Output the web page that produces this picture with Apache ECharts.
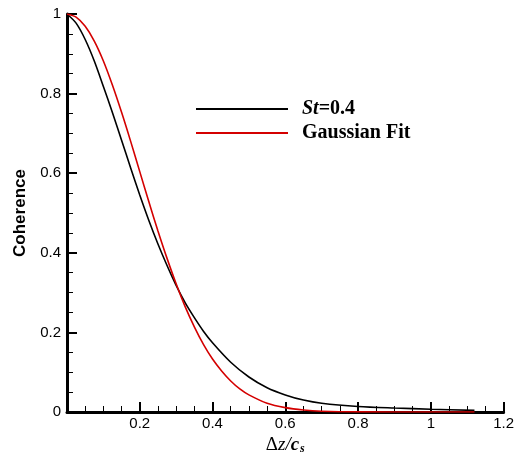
<!DOCTYPE html>
<html>
<head>
<meta charset="utf-8">
<script src="https://cdn.jsdelivr.net/npm/echarts@6/dist/echarts.min.js"></script>
<style>
html,body{margin:0;padding:0;background:#fff;}
#c{width:517px;height:466px;}
</style>
</head>
<body>
<div id="c"></div>
<script>
// Data
const seriesNames = ['St=0.4', 'Gaussian Fit'];
const stX = [0, 0.025, 0.05, 0.075, 0.1, 0.125, 0.15, 0.175, 0.2, 0.225, 0.25, 0.275, 0.3, 0.325, 0.35, 0.375, 0.4, 0.45, 0.5, 0.55, 0.6, 0.65, 0.7, 0.8, 0.9, 1.0, 1.12];
const stY = [1.0, 0.977, 0.936, 0.882, 0.818, 0.752, 0.683, 0.613, 0.545, 0.481, 0.422, 0.368, 0.318, 0.274, 0.237, 0.203, 0.174, 0.125, 0.088, 0.061, 0.043, 0.030, 0.022, 0.014, 0.010, 0.007, 0.004];
const gfX = [0, 0.025, 0.05, 0.075, 0.1, 0.125, 0.15, 0.175, 0.2, 0.225, 0.25, 0.275, 0.3, 0.325, 0.35, 0.375, 0.4, 0.425, 0.45, 0.475, 0.5, 0.55, 0.6, 0.65, 0.7, 0.8, 1.0, 1.12];
const gfY = [1.0, 0.992, 0.969, 0.932, 0.882, 0.821, 0.753, 0.680, 0.604, 0.528, 0.455, 0.386, 0.322, 0.264, 0.214, 0.170, 0.133, 0.103, 0.078, 0.058, 0.043, 0.022, 0.011, 0.005, 0.002, 0.0003, 0.0, 0.0];
const xTicks = [0, 0.2, 0.4, 0.6, 0.8, 1, 1.2];
const yTicks = [0, 0.2, 0.4, 0.6, 0.8, 1];

const pairs = (xs, ys) => xs.map((x, i) => [x, ys[i]]);
const chart = echarts.init(document.getElementById('c'));
const axisCommon = {
  axisLine: {show: true, lineStyle: {color: '#000', width: 3}},
  axisTick: {show: true, inside: true, length: 10, lineStyle: {color: '#000', width: 2}},
  minorTick: {show: true, splitNumber: 4, length: 6, lineStyle: {color: '#000', width: 1}},
  splitLine: {show: false},
  axisLabel: {color: '#000', fontFamily: 'Liberation Sans, Arial', fontSize: 15}
};
chart.setOption({
  animation: false,
  backgroundColor: '#fff',
  grid: {left: 67, right: 10, top: 14, bottom: 54, containLabel: false},
  legend: {
    orient: 'vertical', left: 196, top: 99, padding: 0, icon: 'rect', itemWidth: 92, itemHeight: 2, itemGap: 4,
    data: seriesNames,
    textStyle: {
      color: '#000', fontFamily: 'Liberation Serif, Times New Roman', fontSize: 20, fontWeight: 'bold', padding: [0,0,0,9],
      rich: {
        i: {fontFamily: 'Liberation Serif', fontSize: 20, fontWeight: 'bold', fontStyle: 'italic', color: '#000'},
        b: {fontFamily: 'Liberation Serif', fontSize: 20, fontWeight: 'bold', color: '#000'}
      }
    },
    formatter: function (n) { return n === 'St=0.4' ? '{i|St}{b|=0.4}' : '{b|' + n + '}'; }
  },
  xAxis: Object.assign({}, axisCommon, {
    type: 'value', min: 0, max: 1.2, interval: 0.2,
    axisLabel: Object.assign({}, axisCommon.axisLabel, {margin: 4,
      formatter: v => (Math.abs(v) < 1e-9 ? '' : String(+v.toFixed(2)))}),
    name: '{d|Δ}{z|z/}{c|c}{s|s}', nameLocation: 'middle', nameGap: 21,
    nameTextStyle: {
      rich: {
        d: {fontFamily: 'Liberation Serif', fontSize: 19, color: '#000'},
        z: {fontFamily: 'Liberation Serif', fontSize: 19, fontStyle: 'italic', color: '#000'},
        c: {fontFamily: 'Liberation Serif', fontSize: 19, fontStyle: 'italic', fontWeight: 'bold', color: '#000'},
        s: {fontFamily: 'Liberation Serif', fontSize: 12, fontStyle: 'italic', fontWeight: 'bold', color: '#000', verticalAlign: 'bottom', padding: [8,0,0,1]}
      }
    }
  }),
  yAxis: Object.assign({}, axisCommon, {
    type: 'value', min: 0, max: 1, interval: 0.2,
    axisLabel: Object.assign({}, axisCommon.axisLabel, {margin: 6,
      formatter: v => String(+v.toFixed(2))}),
    name: 'Coherence', nameLocation: 'middle', nameGap: 38,
    nameTextStyle: {fontFamily: 'Liberation Sans, Arial', fontSize: 17, fontWeight: 'bold', color: '#000'}
  }),
  series: [
    {name: seriesNames[0], type: 'line', data: pairs(stX, stY), symbol: 'none', smooth: 0.3,
     lineStyle: {color: '#000', width: 1.6}, itemStyle: {color: '#000'}},
    {name: seriesNames[1], type: 'line', data: pairs(gfX, gfY), symbol: 'none', smooth: 0.3,
     lineStyle: {color: '#d40000', width: 1.6}, itemStyle: {color: '#d40000'}}
  ]
});
</script>
</body>
</html>
